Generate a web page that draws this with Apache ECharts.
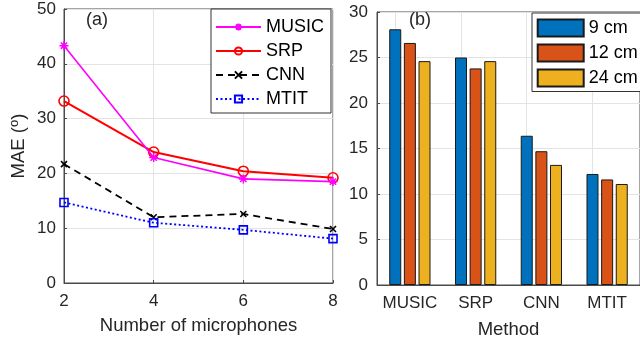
<!DOCTYPE html>
<html>
<head>
<meta charset="utf-8">
<script src="https://cdn.jsdelivr.net/npm/echarts@6/dist/echarts.min.js"></script>
<style>
  html, body { margin: 0; padding: 0; background: #fff; }
  #chart { width: 640px; height: 345px; }
</style>
</head>
<body>
<div id="chart"></div>
<script>
// (a) MAE versus number of microphones
const microphones = [2, 4, 6, 8];
const maeMusic = [43.3, 22.9, 19.0, 18.5];
const maeSrp = [33.2, 23.9, 20.4, 19.2];
const maeCnn = [21.7, 12.0, 12.6, 9.85];
const maeMtit = [14.7, 11.0, 9.7, 8.1];

// (b) MAE per method for three array sizes
const methods = ['MUSIC', 'SRP', 'CNN', 'MTIT'];
const spacingNames = ['9 cm', '12 cm', '24 cm'];
const mae9cm = [28.1, 25.0, 16.4, 12.2];
const mae12cm = [26.6, 23.8, 14.7, 11.6];
const mae24cm = [24.6, 24.6, 13.2, 11.1];

const FONT = 'Liberation Sans, Arial, sans-serif';
const AXIS_COLOR = '#4a4a4a';
const TEXT_COLOR = '#262626';
const GRID_COLOR = '#e3e3e3';

const pairs = (xs, ys) => xs.map((x, i) => [x, ys[i]]);

const asterisk = 'path://M5,0L5,10M0,5L10,5M1.5,1.5L8.5,8.5M1.5,8.5L8.5,1.5';
const cross = 'path://M0,0L10,10M0,10L10,0';

const axisLineCommon = { show: true, lineStyle: { color: AXIS_COLOR, width: 1 } };
const tickCommon = { show: true, inside: true, length: 3, lineStyle: { color: AXIS_COLOR } };

const chart = echarts.init(document.getElementById('chart'), null, { renderer: 'canvas' });

chart.setOption({
  animation: false,
  textStyle: { fontFamily: FONT },
  title: [
    { text: '(a)', left: 86, top: 11, padding: 0,
      textStyle: { fontFamily: FONT, fontSize: 18, fontWeight: 'normal', color: TEXT_COLOR } },
    { text: '(b)', left: 409, top: 11, padding: 0,
      textStyle: { fontFamily: FONT, fontSize: 18, fontWeight: 'normal', color: TEXT_COLOR } }
  ],
  grid: [
    { left: 64, right: 307, top: 9, bottom: 62, show: true, borderColor: AXIS_COLOR, borderWidth: 1 },
    { left: 377, right: -6, top: 12, bottom: 60, show: true, borderColor: AXIS_COLOR, borderWidth: 1 }
  ],
  legend: [
    {
      data: ['MUSIC', 'SRP', 'CNN', 'MTIT'],
      orient: 'vertical', left: 211, top: 9,
      padding: [9, 7, 5, 4],
      itemWidth: 45, itemHeight: 9, itemGap: 6,
      backgroundColor: '#fff', borderColor: '#333', borderWidth: 1,
      selectedMode: false,
      textStyle: { fontFamily: FONT, fontSize: 18, color: '#000' }
    },
    {
      data: spacingNames,
      orient: 'vertical', left: 532, top: 13,
      padding: [5.5, 10, 4, 4.7],
      icon: 'rect',
      itemWidth: 46, itemHeight: 17, itemGap: 6,
      backgroundColor: '#fff', borderColor: '#333', borderWidth: 1,
      selectedMode: false,
      textStyle: { fontFamily: FONT, fontSize: 18, color: '#000' }
    }
  ],
  xAxis: [
    {
      type: 'value', gridIndex: 0, min: 2, max: 8, interval: 2,
      name: 'Number of microphones', nameLocation: 'middle', nameGap: 33,
      nameTextStyle: { fontFamily: FONT, fontSize: 18.5, color: TEXT_COLOR },
      axisLine: axisLineCommon, axisTick: tickCommon,
      axisLabel: { fontFamily: FONT, fontSize: 17, color: TEXT_COLOR, margin: 10 },
      splitLine: { show: true, lineStyle: { color: GRID_COLOR } }
    },
    {
      type: 'category', gridIndex: 1, data: methods, boundaryGap: true,
      name: 'Method', nameLocation: 'middle', nameGap: 35,
      nameTextStyle: { fontFamily: FONT, fontSize: 18.5, color: TEXT_COLOR },
      axisLine: axisLineCommon,
      axisTick: Object.assign({ alignWithLabel: true }, tickCommon),
      axisLabel: { fontFamily: FONT, fontSize: 17, color: TEXT_COLOR, margin: 10, interval: 0 },
      splitLine: { show: false }
    }
  ],
  yAxis: [
    {
      type: 'value', gridIndex: 0, min: 0, max: 50, interval: 10,
      name: 'MAE ({s|o})', nameLocation: 'middle', nameGap: 35,
      nameTextStyle: {
        fontFamily: FONT, fontSize: 18.5, color: TEXT_COLOR,
        rich: { s: { fontFamily: FONT, fontSize: 13, color: TEXT_COLOR, padding: [0, 0, 8, 0] } }
      },
      axisLine: axisLineCommon, axisTick: tickCommon,
      axisLabel: { fontFamily: FONT, fontSize: 17, color: TEXT_COLOR, margin: 8 },
      splitLine: { show: true, lineStyle: { color: GRID_COLOR } }
    },
    {
      type: 'value', gridIndex: 1, min: 0, max: 30, interval: 5,
      axisLine: axisLineCommon, axisTick: tickCommon,
      axisLabel: { fontFamily: FONT, fontSize: 17, color: TEXT_COLOR, margin: 9 },
      splitLine: { show: true, lineStyle: { color: GRID_COLOR } }
    }
  ],
  series: [
    {
      name: 'MUSIC', type: 'line', xAxisIndex: 0, yAxisIndex: 0,
      data: pairs(microphones, maeMusic),
      symbol: asterisk, symbolSize: 9,
      lineStyle: { color: '#ff00ff', width: 1.6 },
      itemStyle: { color: '#ff00ff', borderColor: '#ff00ff', borderWidth: 1.5 },
      z: 5
    },
    {
      name: 'SRP', type: 'line', xAxisIndex: 0, yAxisIndex: 0,
      data: pairs(microphones, maeSrp),
      symbol: 'circle', symbolSize: 10,
      lineStyle: { color: '#ff0000', width: 2 },
      itemStyle: { color: 'rgba(255,255,255,0)', borderColor: '#ff0000', borderWidth: 1.6 },
      z: 4
    },
    {
      name: 'CNN', type: 'line', xAxisIndex: 0, yAxisIndex: 0,
      data: pairs(microphones, maeCnn),
      symbol: cross, symbolSize: 6,
      lineStyle: { color: '#000', width: 1.8, type: [7, 5] },
      itemStyle: { color: '#000', borderColor: '#000', borderWidth: 1.6 },
      z: 3
    },
    {
      name: 'MTIT', type: 'line', xAxisIndex: 0, yAxisIndex: 0,
      data: pairs(microphones, maeMtit),
      symbol: 'rect', symbolSize: 8,
      lineStyle: { color: '#0000ff', width: 1.8, type: [2, 2.5] },
      itemStyle: { color: 'rgba(255,255,255,0)', borderColor: '#0000ff', borderWidth: 1.6 },
      z: 3
    },
    {
      name: spacingNames[0], type: 'bar', xAxisIndex: 1, yAxisIndex: 1,
      data: mae9cm, barWidth: 12, barGap: '22%', z: 3,
      itemStyle: { color: '#0072BD', borderColor: '#1a1a1a', borderWidth: 1 },
      // vertical grid lines through the category centres
      markLine: {
        silent: true, symbol: 'none', z: 1, animation: false,
        label: { show: false },
        lineStyle: { color: GRID_COLOR, width: 1, type: 'solid' },
        emphasis: { disabled: true },
        data: methods.map(m => ({ xAxis: m }))
      }
    },
    {
      name: spacingNames[1], type: 'bar', xAxisIndex: 1, yAxisIndex: 1,
      data: mae12cm, barWidth: 12, barGap: '22%', z: 3,
      itemStyle: { color: '#D95319', borderColor: '#1a1a1a', borderWidth: 1 }
    },
    {
      name: spacingNames[2], type: 'bar', xAxisIndex: 1, yAxisIndex: 1,
      data: mae24cm, barWidth: 12, barGap: '22%', z: 3,
      itemStyle: { color: '#EDB120', borderColor: '#1a1a1a', borderWidth: 1 }
    }
  ]
});
</script>
</body>
</html>
